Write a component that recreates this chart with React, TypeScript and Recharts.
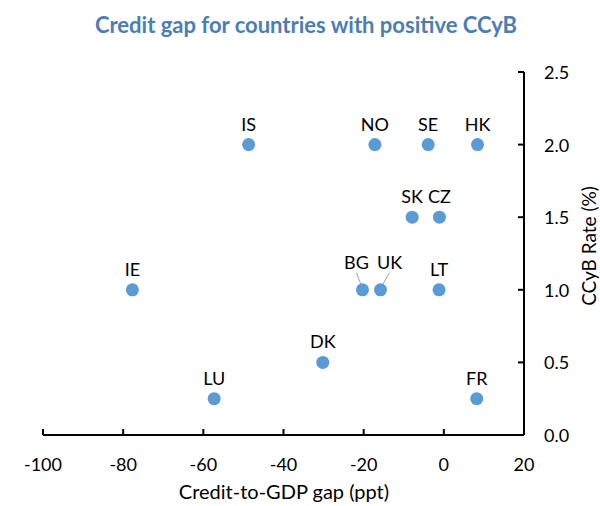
import { ScatterChart, Scatter, XAxis, YAxis } from 'recharts';

// Countries with a positive countercyclical buffer
const countries = ['IS', 'NO', 'SE', 'HK', 'SK', 'CZ', 'IE', 'BG', 'UK', 'LT', 'DK', 'LU', 'FR'];
const creditGap = [-48.7, -17.2, -3.9, 8.4, -7.9, -1.1, -77.7, -20.3, -15.8, -1.2, -30.2, -57.3, 8.2];
const ccybRate = [2.0, 2.0, 2.0, 2.0, 1.5, 1.5, 1.0, 1.0, 1.0, 1.0, 0.5, 0.25, 0.25];

const xTicks = [-100, -80, -60, -40, -20, 0, 20];
const yTicks = [0, 0.5, 1.0, 1.5, 2.0, 2.5];

const data = countries.map((name, i) => ({ name, gap: creditGap[i], rate: ccybRate[i] }));

const FONT = 'Lato, "Open Sans", sans-serif';
const DOT = '#5B9BD5';

// labels that sit away from their dot, with a leader line
const nudge: Record<string, [number, number]> = {
  BG: [-6, -7],
  UK: [9, -7],
};

const Dot = (props: any) => {
  const { cx, cy, payload } = props;
  const n = nudge[payload.name];
  const lx = cx + (n ? n[0] : 0);
  const ly = cy - 21 + (n ? n[1] : 0);
  return (
    <g>
      {n && <line x1={lx} y1={ly + 11} x2={cx + n[0] * 0.1} y2={cy - 3} stroke="#a6a6a6" strokeWidth={1} />}
      <circle cx={cx} cy={cy} r={6.5} fill={DOT} />
      <text x={lx} y={ly} textAnchor="middle" dominantBaseline="central" fontSize={18} fontFamily={FONT} fill="#000">
        {payload.name}
      </text>
    </g>
  );
};

const XTick = (props: any) => {
  const { x, y, payload } = props;
  return (
    <g>
      <line x1={x} y1={y} x2={x} y2={y - 6} stroke="#000" strokeWidth={2} />
      <text x={x} y={y + 29} textAnchor="middle" dominantBaseline="central" fontSize={18} fontFamily={FONT} fill="#000">
        {payload.value}
      </text>
    </g>
  );
};

const YTick = (props: any) => {
  const { x, y, payload } = props;
  return (
    <g>
      <line x1={x} y1={y} x2={x - 6} y2={y} stroke="#000" strokeWidth={2} />
      <text x={x + 20} y={y} textAnchor="start" dominantBaseline="central" fontSize={18} fontFamily={FONT} fill="#000">
        {Number(payload.value).toFixed(1)}
      </text>
    </g>
  );
};

export default function App() {
  return (
    <div style={{ position: 'absolute', left: 0, top: 0, width: 600, height: 506, background: '#fff' }}>
      <div
        style={{
          position: 'absolute',
          top: 11,
          left: 6,
          width: 600,
          textAlign: 'center',
          fontFamily: FONT,
          fontWeight: 700,
          fontSize: 22,
          lineHeight: '28px',
          color: '#4A7EB5',
        }}
      >
        Credit gap for countries with positive CCyB
      </div>
      <ScatterChart width={600} height={506} margin={{ top: 72, right: 0, bottom: 0, left: 43 }}>
        <XAxis
          type="number"
          dataKey="gap"
          domain={[-100, 20]}
          ticks={xTicks}
          height={71}
          axisLine={{ stroke: '#000', strokeWidth: 2 }}
          tickLine={false}
          tickSize={0}
          tickMargin={0}
          tick={<XTick />}
          interval={0}
          label={{
            content: () => (
              <text x={284} y={491} textAnchor="middle" dominantBaseline="central" fontSize={20} fontFamily={FONT} fill="#000">
                Credit-to-GDP gap (ppt)
              </text>
            ),
          }}
        />
        <YAxis
          type="number"
          dataKey="rate"
          orientation="right"
          domain={[0, 2.5]}
          ticks={yTicks}
          width={76}
          axisLine={{ stroke: '#000', strokeWidth: 2 }}
          tickLine={false}
          tickSize={0}
          tickMargin={0}
          tick={<YTick />}
          interval={0}
          label={{
            content: () => (
              <text
                x={588}
                y={246}
                transform="rotate(-90 588 246)"
                textAnchor="middle"
                dominantBaseline="central"
                fontSize={19}
                fontFamily={FONT}
                fill="#000"
              >
                CCyB Rate (%)
              </text>
            ),
          }}
        />
        <Scatter data={data} shape={<Dot />} isAnimationActive={false} />
      </ScatterChart>
    </div>
  );
}
